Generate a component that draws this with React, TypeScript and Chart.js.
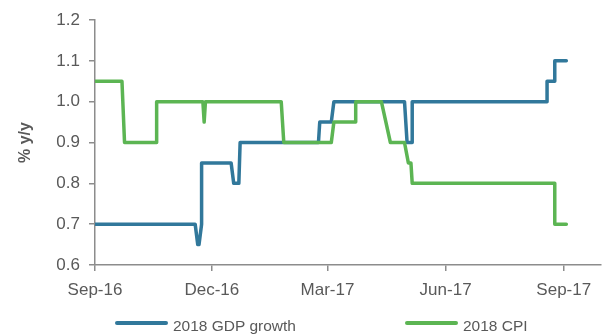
import React, { useEffect, useRef } from "react";
import { Chart, registerables } from "chart.js";

Chart.register(...registerables);

// ---- Data ----
const startDate = "2016-09-01";
const axisEndDate = "2017-09-30";
const tickDates = ["2016-09-01", "2016-12-01", "2017-03-01", "2017-06-01", "2017-09-01"];
const tickLabels = ["Sep-16", "Dec-16", "Mar-17", "Jun-17", "Sep-17"];
const yTicks = [0.6, 0.7, 0.8, 0.9, 1.0, 1.1, 1.2];

const gdpLabel = "2018 GDP growth";
const gdpDates = [
  "2016-09-01", "2016-11-18", "2016-11-20", "2016-11-21", "2016-11-23", "2016-11-23",
  "2016-12-16", "2016-12-18", "2016-12-22", "2016-12-23", "2017-02-22", "2017-02-23",
  "2017-03-04", "2017-03-06", "2017-04-30", "2017-05-02", "2017-05-06", "2017-05-06",
  "2017-08-19", "2017-08-19", "2017-08-25", "2017-08-25", "2017-09-03",
];
const gdpValues = [
  0.7, 0.7, 0.65, 0.65, 0.7, 0.85,
  0.85, 0.8, 0.8, 0.9, 0.9, 0.95,
  0.95, 1.0, 1.0, 0.9, 0.9, 1.0,
  1.0, 1.05, 1.05, 1.1, 1.1,
];

const cpiLabel = "2018 CPI";
const cpiDates = [
  "2016-09-01", "2016-09-22", "2016-09-24", "2016-10-19", "2016-10-19", "2016-11-24",
  "2016-11-25", "2016-11-26", "2017-01-24", "2017-01-26", "2017-03-04", "2017-03-06",
  "2017-03-23", "2017-03-23", "2017-04-12", "2017-04-19", "2017-04-30", "2017-05-03",
  "2017-05-05", "2017-05-06", "2017-08-25", "2017-08-25", "2017-09-03",
];
const cpiValues = [
  1.05, 1.05, 0.9, 0.9, 1.0, 1.0,
  0.95, 1.0, 1.0, 0.9, 0.9, 0.95,
  0.95, 1.0, 1.0, 0.9, 0.9, 0.85,
  0.85, 0.8, 0.8, 0.7, 0.7,
];

// ---- Style ----
const BLUE = "#31789B";
const GREEN = "#5CB553";
const TEXT = "#595959";
const AXIS = "#8c8c8c";
const FONT = "'Liberation Sans', Arial, sans-serif";

const DAY = 86400000;
const toDay = (d: string) => (Date.parse(d) - Date.parse(startDate)) / DAY;
const toPoints = (dates: string[], vals: number[]) =>
  dates.map((d, i) => ({ x: toDay(d), y: vals[i] }));

export default function App() {
  const ref = useRef<HTMLCanvasElement | null>(null);

  useEffect(() => {
    if (!ref.current) return;
    const tickDays = tickDates.map(toDay);
    const chart = new Chart(ref.current, {
      type: "line",
      data: {
        datasets: [
          {
            label: gdpLabel,
            data: toPoints(gdpDates, gdpValues),
            borderColor: BLUE,
            backgroundColor: BLUE,
            borderWidth: 3.5,
            pointRadius: 0,
            tension: 0,
            fill: false,
            borderJoinStyle: "round",
            borderCapStyle: "round",
            order: 1,
          },
          {
            label: cpiLabel,
            data: toPoints(cpiDates, cpiValues),
            borderColor: GREEN,
            backgroundColor: GREEN,
            borderWidth: 3.5,
            pointRadius: 0,
            tension: 0,
            fill: false,
            borderJoinStyle: "round",
            borderCapStyle: "round",
            order: 0,
          },
        ],
      },
      options: {
        animation: false,
        responsive: false,
        maintainAspectRatio: false,
        layout: { padding: { left: 0, right: 4, top: 20, bottom: 0 } },
        plugins: {
          legend: { display: false },
          tooltip: { enabled: false },
        },
        scales: {
          x: {
            type: "linear",
            min: 0,
            max: toDay(axisEndDate),
            afterBuildTicks: (scale: any) => {
              scale.ticks = tickDays.map((v) => ({ value: v }));
            },
            afterFit: (scale: any) => {
              scale.height = 69;
            },
            grid: {
              drawOnChartArea: false,
              drawTicks: true,
              tickLength: 6,
              color: AXIS,
              lineWidth: 1.5,
            },
            border: { display: true, color: AXIS, width: 1.5 },
            ticks: {
              autoSkip: false,
              maxRotation: 0,
              padding: 9,
              color: TEXT,
              font: { family: FONT, size: 17 },
              callback: (v: any) => {
                const i = tickDays.indexOf(Number(v));
                return i >= 0 ? tickLabels[i] : "";
              },
            },
          },
          y: {
            min: yTicks[0],
            max: yTicks[yTicks.length - 1],
            afterBuildTicks: (scale: any) => {
              scale.ticks = yTicks.map((v) => ({ value: v }));
            },
            afterFit: (scale: any) => {
              scale.width = 95;
            },
            grid: {
              drawOnChartArea: false,
              drawTicks: true,
              tickLength: 6,
              color: AXIS,
              lineWidth: 1.5,
            },
            border: { display: true, color: AXIS, width: 1.5 },
            ticks: {
              padding: 9,
              color: TEXT,
              font: { family: FONT, size: 17 },
              callback: (v: any) => Number(v).toFixed(1),
            },
            title: {
              display: true,
              text: "% y/y",
              color: TEXT,
              font: { family: FONT, size: 16, weight: "bold" },
              padding: { top: 16, bottom: 0 },
            },
          },
        },
      },
    } as any);
    return () => chart.destroy();
  }, []);

  const legendItems = [
    { label: gdpLabel, color: BLUE, left: 115 },
    { label: cpiLabel, color: GREEN, left: 405 },
  ];

  return (
    <div
      style={{
        position: "fixed",
        left: 0,
        top: 0,
        width: 605,
        height: 334,
        background: "#fff",
        overflow: "hidden",
      }}
    >
      <canvas ref={ref} width={605} height={334} style={{ display: "block" }} />
      {legendItems.map((it) => (
        <div
          key={it.label}
          style={{
            position: "absolute",
            left: it.left,
            top: 316,
            height: 20,
            display: "flex",
            alignItems: "center",
            whiteSpace: "nowrap",
          }}
        >
          <div
            style={{
              width: 53,
              height: 4,
              borderRadius: 2,
              background: it.color,
              marginTop: -6,
              marginRight: 5,
            }}
          />
          <span style={{ fontFamily: FONT, fontSize: 15.5, color: TEXT, lineHeight: "20px" }}>
            {it.label}
          </span>
        </div>
      ))}
    </div>
  );
}
